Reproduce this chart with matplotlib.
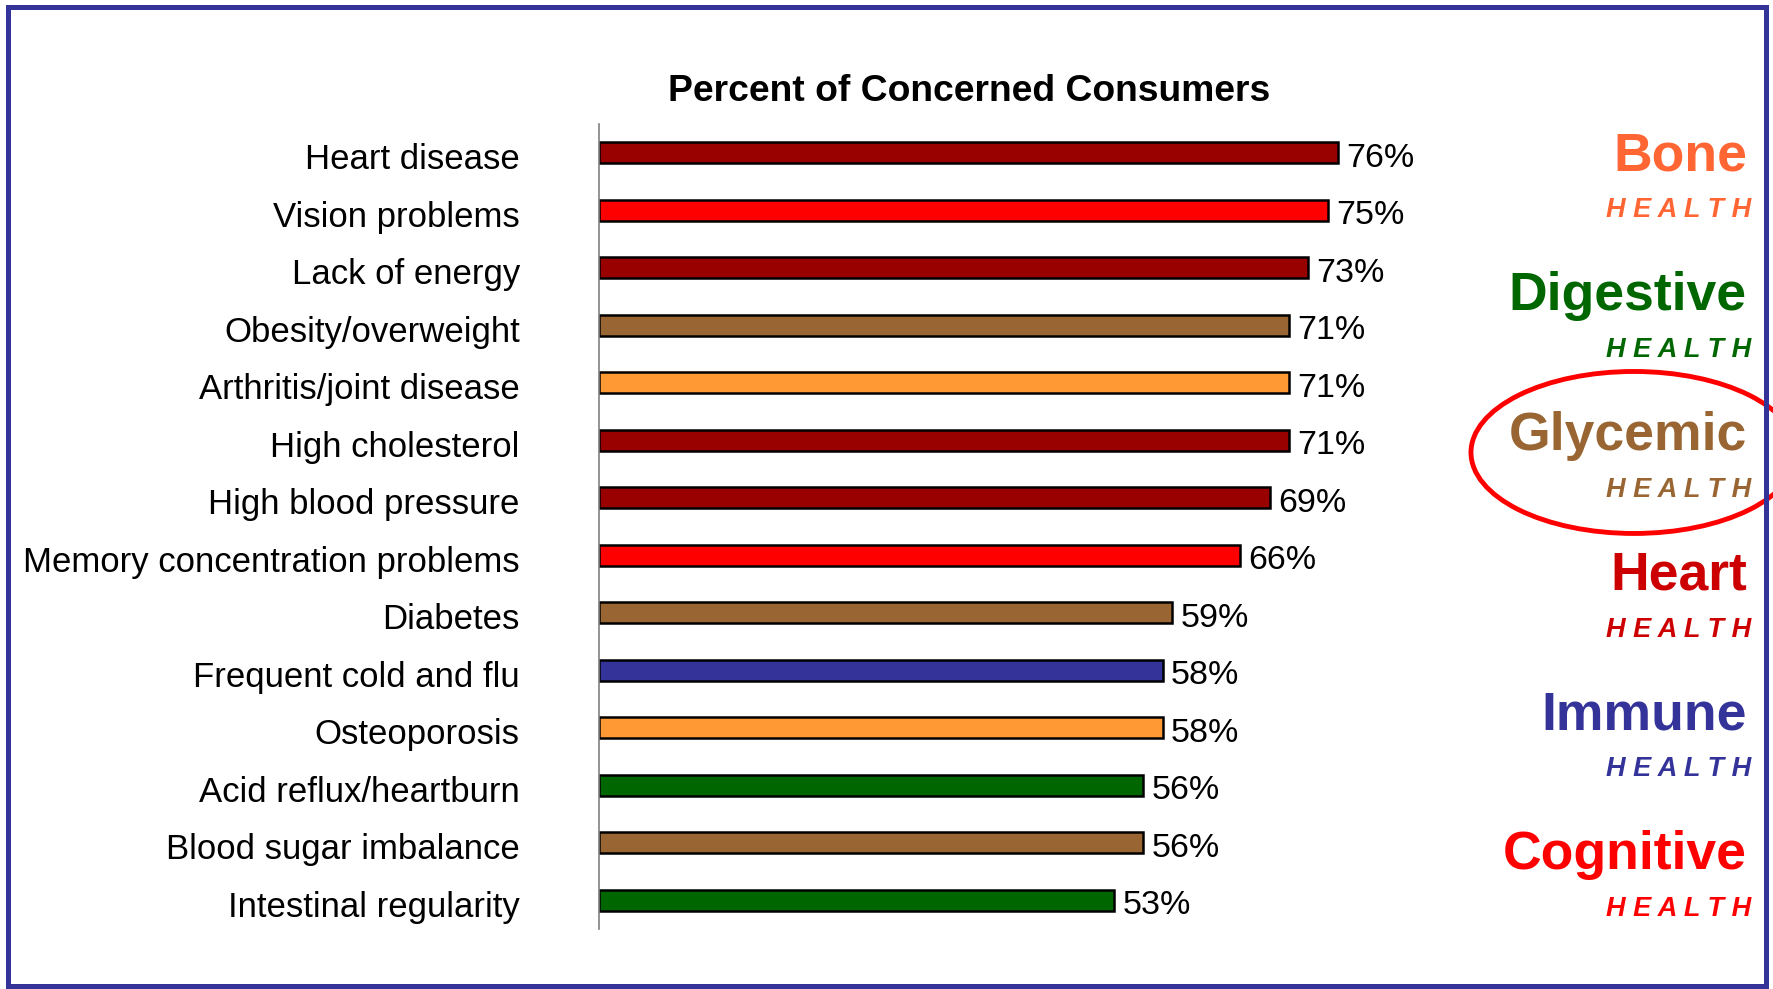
import numpy as np
import matplotlib
matplotlib.use("Agg")
import matplotlib.pyplot as plt
from matplotlib.patches import Ellipse, Rectangle
from matplotlib.transforms import ScaledTranslation

plt.rcParams['font.family'] = ['Liberation Sans', 'DejaVu Sans']

# data, top to bottom
concerns = ["Heart disease", "Vision problems", "Lack of energy", "Obesity/overweight",
            "Arthritis/joint disease", "High cholesterol", "High blood pressure",
            "Memory concentration problems", "Diabetes", "Frequent cold and flu",
            "Osteoporosis", "Acid reflux/heartburn", "Blood sugar imbalance",
            "Intestinal regularity"]
percent = [76, 75, 73, 71, 71, 71, 69, 66, 59, 58, 58, 56, 56, 53]
bar_colors = ["#990000", "#FF0000", "#990000", "#996633", "#FF9933", "#990000", "#990000",
              "#FF0000", "#996633", "#333399", "#FF9933", "#006600", "#996633", "#006600"]

# health areas shown on the right
areas = ["Bone", "Digestive", "Glycemic", "Heart", "Immune", "Cognitive"]
area_colors = ["#FF6633", "#006600", "#996633", "#CC0000", "#333399", "#FF0000"]

fig = plt.figure(figsize=(17.73, 9.89), dpi=100)
ax = fig.add_axes([0.3378, 0.0607, 0.5482, 0.814])

y = np.arange(len(concerns))
ax.barh(y, percent, height=0.37, color=bar_colors, edgecolor="black", linewidth=1.8)
for i, v in enumerate(percent):
    ax.text(v + 0.85, i + 0.1, f"{v}%", va="center", ha="left", fontsize=24.5)

ax.set_xlim(0, 100)
ax.set_ylim(len(concerns) - 0.5, -0.5)
ax.set_yticks(y)
ax.set_yticklabels(concerns, fontsize=25)
ax.tick_params(axis="y", length=0, pad=57)
# labels sit a little below the bar centres
down = ScaledTranslation(0, -0.035, fig.dpi_scale_trans)
for lab in ax.get_yticklabels():
    lab.set_transform(lab.get_transform() + down)
ax.set_xticks([])
for s in ["top", "right", "bottom"]:
    ax.spines[s].set_visible(False)
ax.spines["left"].set_color("#808080")
ax.spines["left"].set_linewidth(1.2)

fig.text(0.5466, 0.907, "Percent of Concerned Consumers", ha="center", va="center",
         fontsize=26.8, fontweight="bold")

# right hand health labels
y0 = 0.842
step = 139.8 / 989
for k, (name, c) in enumerate(zip(areas, area_colors)):
    yy = y0 - k * step
    fig.text(0.9853, yy, name, ha="right", va="center", fontsize=38.5,
             fontweight="bold", color=c)
    fig.text(0.9875, yy - 54 / 989, "H E A L T H", ha="right", va="center",
             fontsize=19.5, fontweight="bold", fontstyle="italic", color=c)

# circle around Glycemic
fig.patches.append(Ellipse((0.9216, 0.5425), 0.1839, 0.1638, transform=fig.transFigure,
                           fill=False, edgecolor="#FF0000", linewidth=3.5, zorder=1))
# blue frame
fig.patches.append(Rectangle((0.0045, 0.003), 0.9915, 0.990, transform=fig.transFigure,
                             fill=False, edgecolor="#333399", linewidth=3.6, zorder=2))

fig.savefig("out.png", dpi=100)
